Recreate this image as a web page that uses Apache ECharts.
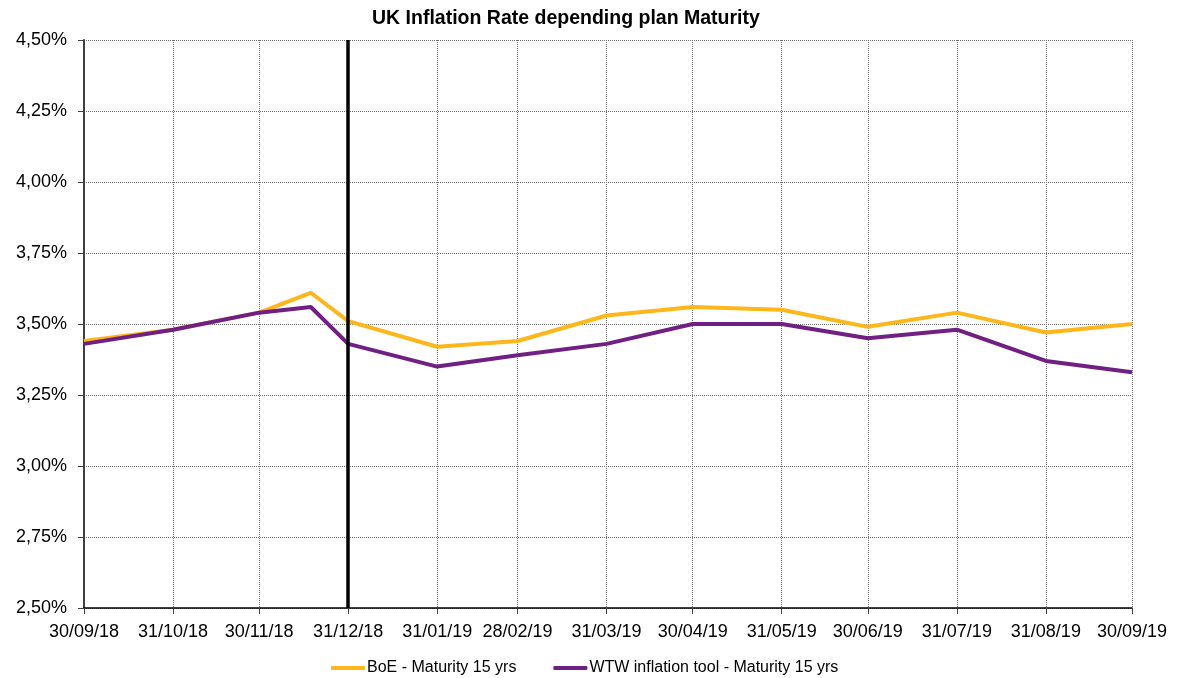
<!DOCTYPE html>
<html>
<head>
<meta charset="utf-8">
<script src="https://cdn.jsdelivr.net/npm/echarts@6/dist/echarts.min.js"></script>
<style>
  html, body { margin: 0; padding: 0; background: #fff; }
  #chart { width: 1187px; height: 678px; }
</style>
</head>
<body>
<div id="chart"></div>
<script>
// observation dates (one extra point mid-December)
const dates = [
  '2018-09-30', '2018-10-31', '2018-11-30', '2018-12-18', '2018-12-31',
  '2019-01-31', '2019-02-28', '2019-03-31', '2019-04-30', '2019-05-31',
  '2019-06-30', '2019-07-31', '2019-08-31', '2019-09-30'
];
const boe = [3.44, 3.48, 3.54, 3.61, 3.51, 3.42, 3.44, 3.53, 3.56, 3.55, 3.49, 3.54, 3.47, 3.50];
const wtw = [3.43, 3.48, 3.54, 3.56, 3.43, 3.35, 3.39, 3.43, 3.50, 3.50, 3.45, 3.48, 3.37, 3.33];

// x tick labels at month ends
const tickDates = [
  '2018-09-30', '2018-10-31', '2018-11-30', '2018-12-31', '2019-01-31',
  '2019-02-28', '2019-03-31', '2019-04-30', '2019-05-31', '2019-06-30',
  '2019-07-31', '2019-08-31', '2019-09-30'
];
const markerDate = '2018-12-31';

// dates as day numbers (UTC) so a plain value axis can place them
const day = d => Date.parse(d + 'T00:00:00Z') / 86400000;
const tickValues = tickDates.map(day);

function fmtDate(v) {
  const d = new Date(v * 86400000);
  const p = n => (n < 10 ? '0' : '') + n;
  return p(d.getUTCDate()) + '/' + p(d.getUTCMonth() + 1) + '/' + p(d.getUTCFullYear() % 100);
}

const chart = echarts.init(document.getElementById('chart'));

const font = 'Liberation Sans, Arial, sans-serif';

chart.setOption({
  animation: false,
  title: {
    text: 'UK Inflation Rate depending plan Maturity',
    left: 367,
    top: 4,
    textStyle: { fontFamily: font, fontSize: 19.5, fontWeight: 'bold', color: '#000' }
  },
  legend: {
    top: 655,
    left: 326,
    itemGap: 37,
    itemWidth: 34,
    itemHeight: 4,
    icon: 'roundRect',
    textStyle: { fontFamily: font, fontSize: 16, color: '#000', padding: [0, 0, 0, -3] },
    data: ['BoE - Maturity 15 yrs', 'WTW inflation tool - Maturity 15 yrs']
  },
  grid: { left: 84, right: 55, top: 40, bottom: 70 },
  xAxis: {
    type: 'value',
    min: day(dates[0]),
    max: day(dates[dates.length - 1]),
    axisLine: { lineStyle: { color: '#000', width: 1.5 } },
    axisTick: { show: true, length: 6, customValues: tickValues, lineStyle: { color: '#404040' } },
    axisLabel: {
      customValues: tickValues,
      formatter: v => fmtDate(v),
      fontFamily: font, fontSize: 18, color: '#000', margin: 15,
      hideOverlap: false, showMinLabel: true, showMaxLabel: true
    },
    splitLine: { show: true, lineStyle: { color: '#707070', type: [1, 1], width: 1 } }
  },
  yAxis: {
    type: 'value',
    min: 2.5,
    max: 4.5,
    interval: 0.25,
    axisLine: { show: true, lineStyle: { color: '#404040', width: 2 } },
    axisTick: { show: true, length: 6, lineStyle: { color: '#404040' } },
    axisLabel: {
      formatter: v => v.toFixed(2).replace('.', ',') + '%',
      fontFamily: font, fontSize: 18, color: '#000', margin: 17
    },
    splitLine: { show: true, lineStyle: { color: '#707070', type: [1, 1], width: 1 } }
  },
  series: [
    {
      name: 'BoE - Maturity 15 yrs',
      type: 'line',
      data: dates.map((d, i) => [day(d), boe[i]]),
      showSymbol: false,
      lineStyle: { color: '#FDB71A', width: 4 },
      itemStyle: { color: '#FDB71A' },
      z: 3
    },
    {
      name: 'WTW inflation tool - Maturity 15 yrs',
      type: 'line',
      data: dates.map((d, i) => [day(d), wtw[i]]),
      showSymbol: false,
      lineStyle: { color: '#702082', width: 4 },
      itemStyle: { color: '#702082' },
      z: 4,
      markLine: {
        silent: true,
        symbol: ['none', 'none'],
        label: { show: false },
        lineStyle: { color: '#000', width: 3.5, type: 'solid' },
        data: [{ xAxis: day(markerDate) }]
      }
    }
  ]
});
</script>
</body>
</html>
